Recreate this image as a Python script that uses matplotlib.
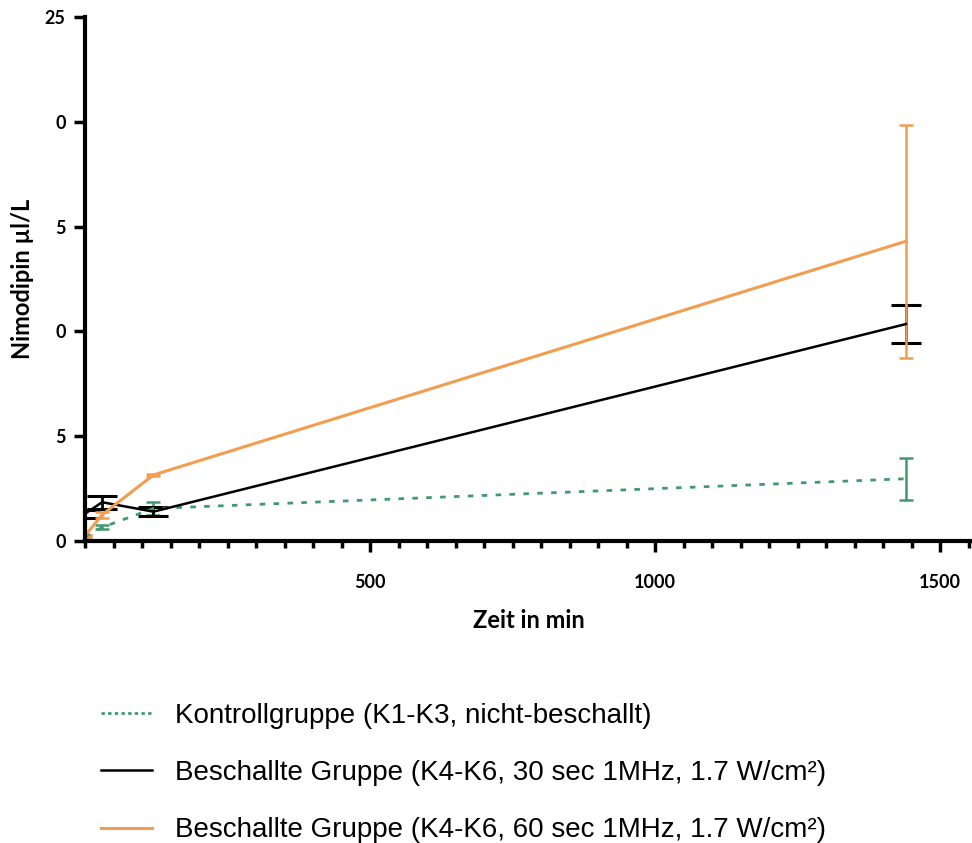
import numpy as np
import matplotlib.pyplot as plt
from matplotlib.ticker import MultipleLocator

# time points (min)
zeit = [0, 30, 120, 1440]

kontroll = [0.2, 0.65, 1.55, 2.97]
kontroll_err = [0.1, 0.1, 0.3, 1.0]

besch30 = [1.3, 1.85, 1.4, 10.35]
besch30_err = [0.2, 0.3, 0.2, 0.9]

besch60 = [0.25, 1.25, 3.15, 14.3]
besch60_err = [0.05, 0.15, 0.05, 5.55]

ytick_pos = [0, 5, 10, 15, 20, 25]
ytick_lab = ['0', '5', '0', '5', '0', '25']
xtick_pos = [500, 1000, 1500]

labels = ['Kontrollgruppe (K1-K3, nicht-beschallt)',
          'Beschallte Gruppe (K4-K6, 30 sec 1MHz, 1.7 W/cm²)',
          'Beschallte Gruppe (K4-K6, 60 sec 1MHz, 1.7 W/cm²)']

green = '#3f9a6e'
orange = '#f29d4f'

fig = plt.figure(figsize=(9.72, 8.43), dpi=100)
ax = fig.add_axes([85/972, 1 - 541/843, 1 - 85/972, (541 - 17)/843])

l1 = ax.errorbar(zeit, kontroll, yerr=kontroll_err, color=green, ls=(0, (2, 3)),
                 lw=2, capsize=5, elinewidth=1.8, capthick=1.8)
l2 = ax.errorbar(zeit, besch30, yerr=besch30_err, color='black', lw=1.8,
                 capsize=11, elinewidth=2, capthick=2.2)
l3 = ax.errorbar(zeit, besch60, yerr=besch60_err, color=orange, lw=2.2,
                 capsize=5, elinewidth=1.8, capthick=1.8)

ax.set_xlim(0, 1556)
ax.set_ylim(0, 25)
ax.set_yticks(ytick_pos)
ax.set_yticklabels(ytick_lab)
ax.set_xticks(xtick_pos)
ax.xaxis.set_minor_locator(MultipleLocator(50))

for s in ['top', 'right']:
    ax.spines[s].set_visible(False)
for s in ['left', 'bottom']:
    ax.spines[s].set_linewidth(3)
ax.tick_params(which='major', length=8, width=2.5, pad=6)
ax.tick_params(which='minor', length=5, width=2.5)

for t in ax.get_xticklabels() + ax.get_yticklabels():
    t.set_fontfamily('Lato')
    t.set_fontweight('bold')
    t.set_fontsize(13)
ax.tick_params(axis='x', pad=16)

ax.set_xlabel('Zeit in min', fontfamily='Lato', fontweight='bold', fontsize=17, labelpad=13)
ax.set_ylabel('Nimodipin µl/L', fontfamily='Lato', fontweight='bold', fontsize=17, labelpad=8)

leg = fig.legend([l1.lines[0], l2.lines[0], l3.lines[0]], labels,
                 loc='upper left', bbox_to_anchor=(76/972, 1 - 678/843),
                 frameon=False, handlelength=1.85, handletextpad=0.8, labelspacing=1.12,
                 prop=dict(family='Liberation Sans', size=20))
leg.legend_handles[0].set_linestyle((0, (1.2, 1.2)))

fig.savefig('out.png', dpi=100)
